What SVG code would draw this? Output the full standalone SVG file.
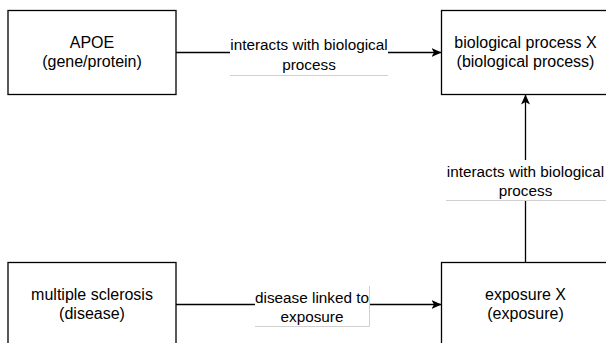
<svg xmlns="http://www.w3.org/2000/svg" width="606" height="343" viewBox="0 0 606 343">
  <defs>
    <marker id="arrow" viewBox="0 0 10 10" refX="10" refY="5" markerWidth="10" markerHeight="10" markerUnits="userSpaceOnUse" orient="auto">
      <path d="M0,0.5 L10,5 L0,9.5 L2.5,5 Z" fill="#000"/>
    </marker>
  </defs>
  <style>
    .box { fill: #fff; stroke: #000; stroke-width: 1.3; }
    .t { font-family: "Liberation Sans", Arial, sans-serif; font-size: 16px; fill: #000; text-anchor: middle; }
    .lt { font-family: "Liberation Sans", Arial, sans-serif; font-size: 15.3px; fill: #000; text-anchor: middle; }
    .edge { fill: none; stroke: #000; stroke-width: 1.3; }
    .lbg { fill: #fff; stroke: none; }
    .lline { stroke: #d0d0d0; stroke-width: 1; fill: none; }
  </style>
  <rect width="606" height="343" fill="#fff"/>
  <g id="connectors">
    <g id="edge-apoe-bio">
      <path class="edge" d="M176,52.5 L441.5,52.5" marker-end="url(#arrow)"/>
      <rect class="lbg" x="230" y="36" width="158" height="39"/>
      <path class="lline" d="M230,75.5 L388,75.5"/>
      <text class="lt" x="309" y="50">interacts with biological</text>
      <text class="lt" x="309" y="70">process</text>
    </g>
    <g id="edge-exp-bio">
      <path class="edge" d="M525.5,262.5 L525.5,94.5" marker-end="url(#arrow)"/>
      <rect class="lbg" x="446" y="160" width="160" height="40"/>
      <path class="lline" d="M446,200.5 L606,200.5"/>
      <text class="lt" x="525.5" y="177">interacts with biological</text>
      <text class="lt" x="525.5" y="196">process</text>
    </g>
    <g id="edge-ms-exp">
      <path class="edge" d="M176,304.5 L441.5,304.5" marker-end="url(#arrow)"/>
      <rect class="lbg" x="255" y="286" width="114" height="40"/>
      <path class="lline" d="M255,326.5 L369.5,326.5 L369.5,286"/>
      <text class="lt" x="312" y="303">disease linked to</text>
      <text class="lt" x="312" y="322">exposure</text>
    </g>
  </g>
  <g id="node-apoe">
    <rect class="box" x="8" y="10.5" width="168" height="84"/>
    <text class="t" x="92" y="48">APOE</text>
    <text class="t" x="92" y="67">(gene/protein)</text>
  </g>
  <g id="node-bio">
    <rect class="box" x="441.5" y="10.5" width="168" height="84"/>
    <text class="t" x="525.5" y="48">biological process X</text>
    <text class="t" x="525.5" y="67">(biological process)</text>
  </g>
  <g id="node-ms">
    <rect class="box" x="8" y="262.5" width="168" height="84"/>
    <text class="t" x="92" y="300">multiple sclerosis</text>
    <text class="t" x="92" y="319">(disease)</text>
  </g>
  <g id="node-exp">
    <rect class="box" x="441.5" y="262.5" width="168" height="84"/>
    <text class="t" x="525.5" y="300">exposure X</text>
    <text class="t" x="525.5" y="319">(exposure)</text>
  </g>
</svg>
